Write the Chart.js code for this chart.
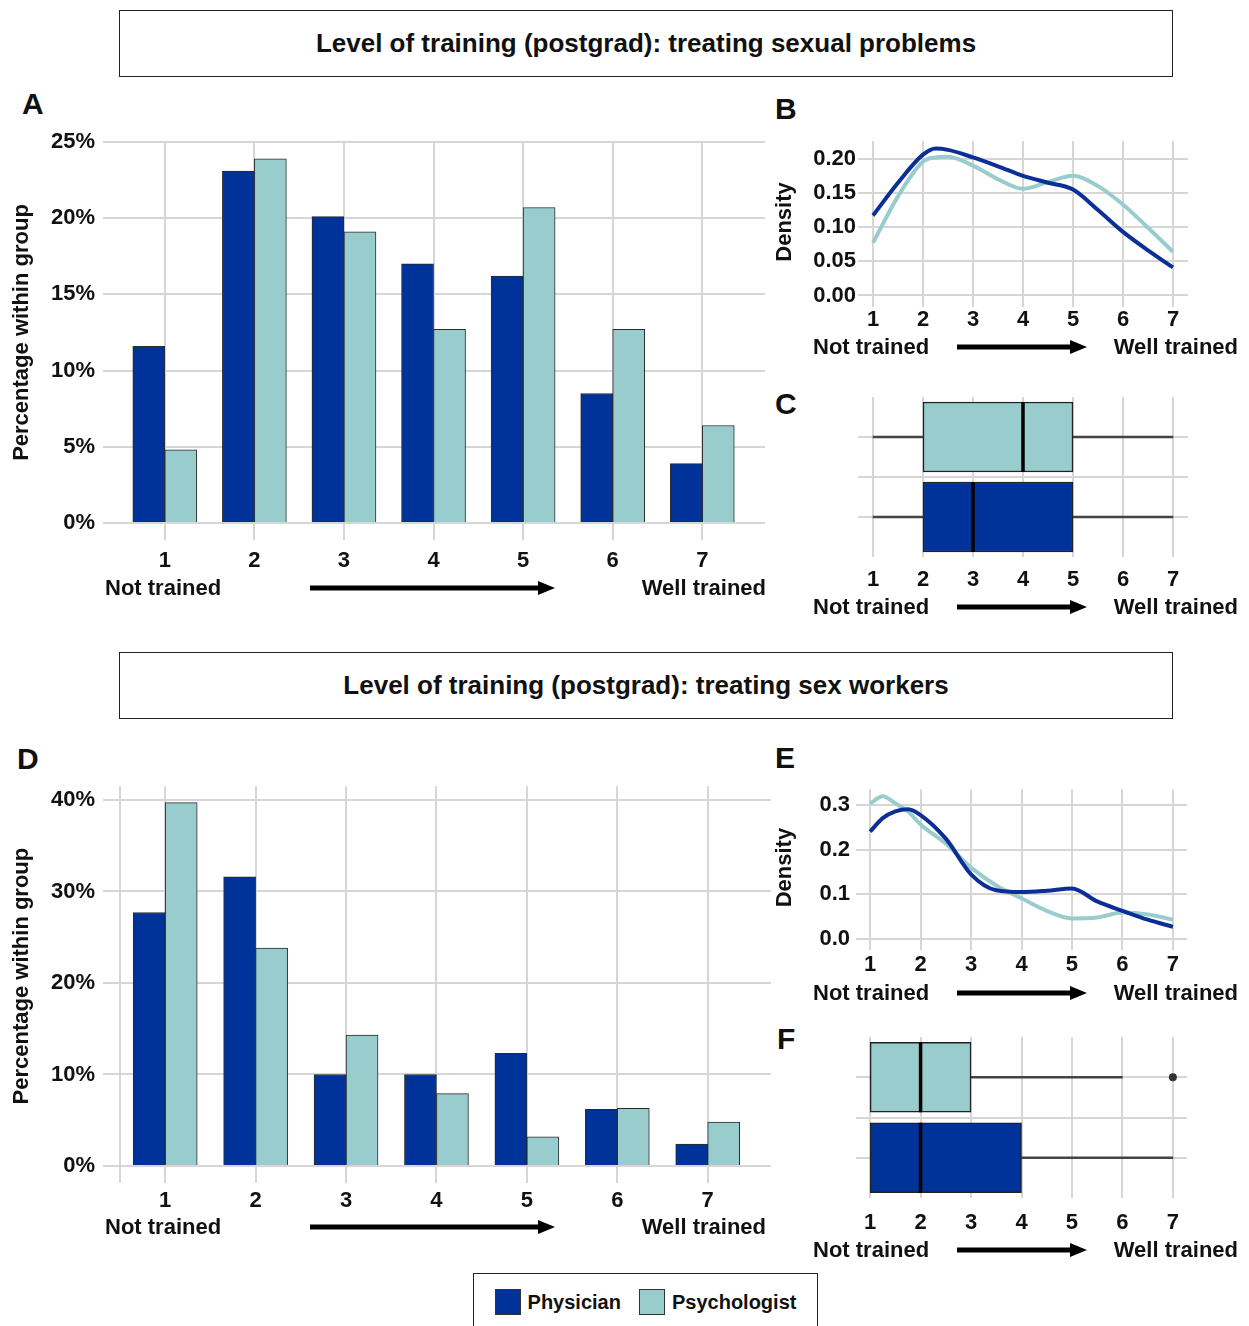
<!DOCTYPE html>
<html>
<head>
<meta charset="utf-8">
<script src="https://cdn.jsdelivr.net/npm/chart.js@4.4.1/dist/chart.umd.min.js"></script>
<style>
  body { margin: 0; background: #fff; width: 1249px; height: 1326px; position: relative; overflow: hidden;
         font-family: 'Liberation Sans', Arial, sans-serif; font-weight: bold; color: #111; }
  canvas { position: absolute; }
  .titlebox { position: absolute; left: 119px; width: 1054px; height: 67px; border: 1.5px solid #222; box-sizing: border-box;
              display: flex; align-items: center; justify-content: center; font-size: 26px; }
  .txt { position: absolute; white-space: nowrap; line-height: 1; font-size: 22px; transform: translateY(-50%); }
  .letter { position: absolute; font-size: 30px; line-height: 1; }
  .legend { position: absolute; left: 473px; top: 1273px; width: 345px; height: 70px; border: 1.5px solid #222; box-sizing: border-box;
            display: flex; align-items: center; justify-content: center; font-size: 20px; padding-bottom: 12px; }
  .legend span.sw { display: inline-block; width: 26px; height: 26px; border: 1px solid #333; box-sizing: border-box; margin: 0 7px 0 0; }
  .legend span.item { display: inline-flex; align-items: center; margin: 0 9px; }
</style>
</head>
<body>
<div class="titlebox" style="top:10px">Level of training (postgrad): treating sexual problems</div>
<div class="titlebox" style="top:652px">Level of training (postgrad): treating sex workers</div>
<div class="letter" style="left:22px;top:89px">A</div>
<div class="letter" style="left:775px;top:94px">B</div>
<div class="letter" style="left:775px;top:389px">C</div>
<div class="letter" style="left:17px;top:744px">D</div>
<div class="letter" style="left:775px;top:743px">E</div>
<div class="letter" style="left:777px;top:1024px">F</div>
<div class="legend" id="legend"></div>

<script>
// rating scale 1 (not trained) .. 7 (well trained)
const levels = [1, 2, 3, 4, 5, 6, 7];
const groups = ['Physician', 'Psychologist'];

// A: treating sexual problems, % within group
const sexProbPhysician = [11.6, 23.1, 20.1, 17.0, 16.2, 8.5, 3.9];
const sexProbPsychologist = [4.8, 23.9, 19.1, 12.7, 20.7, 12.7, 6.4];
const pctTicksA = [0, 5, 10, 15, 20, 25];

// D: treating sex workers, % within group
const sexWorkPhysician = [27.7, 31.6, 10.0, 10.0, 12.3, 6.2, 2.4];
const sexWorkPsychologist = [39.7, 23.8, 14.3, 7.9, 3.2, 6.3, 4.8];
const pctTicksD = [0, 10, 20, 30, 40];

// B: density, sexual problems
const densXB = [1, 1.5, 2, 2.25, 2.5, 3, 3.5, 4, 4.5, 5, 5.5, 6, 6.5, 7];
const densPhysB = [0.117, 0.165, 0.206, 0.215, 0.213, 0.202, 0.189, 0.175, 0.165, 0.155, 0.125, 0.093, 0.066, 0.041];
const densPsyB = [0.077, 0.145, 0.196, 0.202, 0.203, 0.190, 0.170, 0.156, 0.166, 0.175, 0.160, 0.133, 0.099, 0.064];
const densTicksB = [0, 0.05, 0.1, 0.15, 0.2];

// E: density, sex workers
const densXE = [1, 1.25, 1.5, 1.75, 2, 2.5, 3, 3.5, 4, 4.5, 5, 5.5, 6, 6.5, 7];
const densPhysE = [0.241, 0.271, 0.286, 0.291, 0.278, 0.225, 0.145, 0.109, 0.105, 0.108, 0.113, 0.084, 0.063, 0.043, 0.027];
const densPsyE = [0.304, 0.320, 0.304, 0.286, 0.257, 0.214, 0.160, 0.120, 0.091, 0.063, 0.046, 0.048, 0.059, 0.055, 0.043];
const densTicksE = [0, 0.1, 0.2, 0.3];

// C / F: box stats [min, q1, median, q3, max]
const boxPhysC = [1, 2, 3, 5, 7];
const boxPsyC = [1, 2, 4, 5, 7];
const boxPhysF = [1, 1, 2, 4, 7];
const boxPsyF = [1, 1, 2, 3, 6];
const outliersPsyF = [7];

const PHYS = '#003399';
const PSY = '#99cccc';
const PHYS_LINE = '#0b2f96';
const GRID = '#d6d6d6';
const FONT = "'Liberation Sans', Arial, sans-serif";
const tickFont = { family: FONT, size: 22, weight: 'bold' };

function fixTicks(values) {
  return function(scale) { scale.ticks = values.map(v => ({ value: v })); };
}

function placeCanvas(left, top, w, h) {
  const c = document.createElement('canvas');
  c.width = w; c.height = h;
  c.style.left = left + 'px'; c.style.top = top + 'px';
  document.body.appendChild(c);
  return c;
}

function barChart(canvas, phys, psy, yMax, yTicks, xGrid, lay) {
  const bars = (vals, color, label) => ({
    label: label,
    data: levels.map((l, i) => ({ x: l, y: vals[i] })),
    backgroundColor: color, borderColor: '#2b2b2b', borderWidth: 1, barThickness: 32
  });
  return new Chart(canvas, {
    type: 'bar',
    data: { datasets: [bars(phys, PHYS, groups[0]), bars(psy, PSY, groups[1])] },
    options: {
      responsive: false, animation: false,
      layout: { autoPadding: false, padding: { top: lay.top, right: lay.right } },
      plugins: { legend: { display: false }, tooltip: { enabled: false } },
      scales: {
        x: {
          type: 'linear', min: 0.5, max: 7.7, offset: false,
          afterBuildTicks: fixTicks(xGrid),
          afterFit: s => { s.height = lay.xh; },
          grid: { color: GRID, lineWidth: 2, offset: false, tickLength: 17 },
          border: { display: false },
          ticks: { font: tickFont, color: '#111', padding: lay.xpad, callback: v => Number.isInteger(v) ? v : '' }
        },
        y: {
          min: 0, max: yMax,
          afterBuildTicks: fixTicks(yTicks),
          afterFit: s => { s.width = 120; },
          grid: { color: GRID, lineWidth: 2, tickLength: 17 },
          border: { display: false },
          ticks: { font: tickFont, color: '#111', padding: 8, callback: v => v + '%' },
          title: { display: true, text: 'Percentage within group', font: tickFont, color: '#111', padding: { top: 9, bottom: 0 } }
        }
      }
    }
  });
}

function densityChart(canvas, xs, phys, psy, yMin, yMax, yTicks, digits, lay) {
  const line = (vals, color, label) => ({
    label: label,
    data: xs.map((x, i) => ({ x: x, y: vals[i] })),
    borderColor: color, borderWidth: 4, pointRadius: 0, cubicInterpolationMode: 'monotone', fill: false
  });
  return new Chart(canvas, {
    type: 'line',
    data: { datasets: [line(phys, PHYS_LINE, groups[0]), line(psy, PSY, groups[1])] },
    options: {
      responsive: false, animation: false,
      layout: { autoPadding: false, padding: { top: lay.top, right: lay.right } },
      plugins: { legend: { display: false }, tooltip: { enabled: false } },
      scales: {
        x: {
          type: 'linear', min: lay.xmin, max: lay.xmax,
          afterBuildTicks: fixTicks(levels),
          afterFit: s => { s.height = lay.xh; },
          grid: { color: GRID, lineWidth: 2, tickLength: 4 },
          border: { display: false },
          ticks: { font: tickFont, color: '#111', padding: lay.xpad }
        },
        y: {
          min: yMin, max: yMax,
          afterBuildTicks: fixTicks(yTicks),
          afterFit: s => { s.width = lay.yw; },
          grid: { color: GRID, lineWidth: 2, drawTicks: false },
          border: { display: false },
          ticks: { font: tickFont, color: '#111', padding: lay.ypad, callback: v => v.toFixed(digits) },
          title: { display: true, text: 'Density', font: tickFont, color: '#111', padding: { top: 2, bottom: 0 } }
        }
      }
    }
  });
}

function boxChart(canvas, phys, psy, outliers, lay) {
  const rows = [2, 1]; // psychologist above physician
  const stats = [psy, phys];
  return new Chart(canvas, {
    type: 'bar',
    data: {
      datasets: [
        { type: 'scatter', data: stats.map((s, i) => ({ x: s[2], y: rows[i] })),
          pointStyle: 'line', pointRotation: 90, pointRadius: 35, pointBorderColor: '#000', pointBorderWidth: 3.5 },
        { type: 'scatter', data: outliers.map(v => ({ x: v, y: rows[0] })),
          pointRadius: 4, pointBackgroundColor: '#333', pointBorderWidth: 0 },
        { data: stats.map((s, i) => ({ y: rows[i], x: [s[1], s[3]] })),
          backgroundColor: [PSY, PHYS], borderColor: '#222', borderWidth: 1.5, borderSkipped: false, barThickness: 70, grouped: false },
        { data: stats.map((s, i) => ({ y: rows[i], x: [s[0], s[1]] })),
          backgroundColor: '#444', barThickness: 2, grouped: false },
        { data: stats.map((s, i) => ({ y: rows[i], x: [s[3], s[4]] })),
          backgroundColor: '#444', barThickness: 2, grouped: false }
      ]
    },
    options: {
      indexAxis: 'y',
      responsive: false, animation: false,
      layout: { autoPadding: false, padding: { top: lay.top, right: lay.right } },
      plugins: { legend: { display: false }, tooltip: { enabled: false } },
      scales: {
        x: {
          type: 'linear', min: lay.xmin, max: lay.xmax,
          afterBuildTicks: fixTicks(levels),
          afterFit: s => { s.height = lay.xh; },
          grid: { color: GRID, lineWidth: 2, drawTicks: false },
          border: { display: false },
          ticks: { font: tickFont, color: '#111', padding: lay.xpad }
        },
        y: {
          type: 'linear', min: 0.5, max: 2.5, offset: false,
          afterBuildTicks: fixTicks([1, 1.5, 2]),
          afterFit: s => { s.width = lay.yw; },
          grid: { color: GRID, lineWidth: 2, offset: false, drawTicks: false },
          border: { display: false },
          ticks: { display: false }
        }
      }
    }
  });
}

// "Not trained  ---->  Well trained" caption under an axis
function caption(notLeft, arrowFrom, arrowTo, wellRight, y) {
  const a = document.createElement('div');
  a.className = 'txt'; a.textContent = 'Not trained';
  a.style.left = notLeft + 'px'; a.style.top = y + 'px';
  document.body.appendChild(a);
  const b = document.createElement('div');
  b.className = 'txt'; b.textContent = 'Well trained';
  b.style.right = (1249 - wellRight) + 'px'; b.style.top = y + 'px';
  document.body.appendChild(b);
  const w = arrowTo - arrowFrom;
  const svg = document.createElementNS('http://www.w3.org/2000/svg', 'svg');
  svg.setAttribute('width', w); svg.setAttribute('height', 16);
  svg.style.position = 'absolute'; svg.style.left = arrowFrom + 'px'; svg.style.top = (y - 8) + 'px';
  svg.innerHTML = '<line x1="0" y1="8" x2="' + (w - 12) + '" y2="8" stroke="#000" stroke-width="5"/>' +
    '<polygon points="' + (w - 17) + ',1 ' + w + ',8 ' + (w - 17) + ',15" fill="#000"/>';
  document.body.appendChild(svg);
}

// legend
const legend = document.getElementById('legend');
[PHYS, PSY].forEach((col, i) => {
  const it = document.createElement('span');
  it.className = 'item';
  it.innerHTML = '<span class="sw" style="background:' + col + '"></span>' + groups[i];
  legend.appendChild(it);
});

// A
barChart(placeCanvas(0, 120, 780, 470), sexProbPhysician, sexProbPsychologist, 25, pctTicksA, levels,
  { top: 22, right: 15, xh: 67, xpad: 8 });
caption(105, 310, 555, 766, 588);

// D
barChart(placeCanvas(0, 765, 785, 470), sexWorkPhysician, sexWorkPsychologist, 41.5, pctTicksD, [0.5].concat(levels),
  { top: 20, right: 14, xh: 69, xpad: 5 });
caption(105, 310, 555, 766, 1227);

// B
densityChart(placeCanvas(770, 125, 430, 215), densXB, densPhysB, densPsyB, -0.011, 0.226, densTicksB, 2,
  { top: 16, right: 12, xh: 37, xpad: 0, yw: 88, ypad: 2, xmin: 0.7, xmax: 7.3 });
caption(813, 957, 1087, 1238, 347);

// C
boxChart(placeCanvas(770, 385, 430, 215), boxPhysC, boxPsyC, [],
  { top: 12, right: 12, xh: 43, xpad: 10, yw: 88, xmin: 0.7, xmax: 7.3 });
caption(813, 957, 1087, 1238, 607);

// E
densityChart(placeCanvas(770, 770, 430, 215), densXE, densPhysE, densPsyE, -0.016, 0.336, densTicksE, 1,
  { top: 15, right: 13, xh: 39, xpad: 2, yw: 86, ypad: 6, xmin: 0.72, xmax: 7.28 });
caption(813, 957, 1087, 1238, 993);

// F
boxChart(placeCanvas(770, 1025, 430, 215), boxPhysF, boxPsyF, outliersPsyF,
  { top: 12, right: 13, xh: 42, xpad: 12, yw: 86, xmin: 0.72, xmax: 7.28 });
caption(813, 957, 1087, 1238, 1250);
</script>
</body>
</html>
